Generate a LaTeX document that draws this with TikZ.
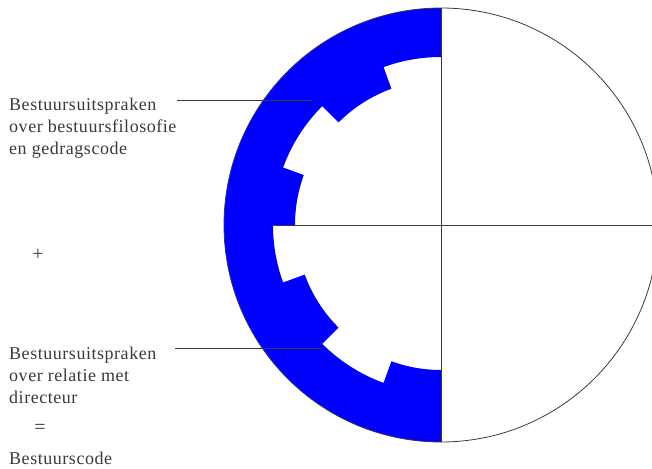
\documentclass[tikz,border=0pt]{standalone}
\usepackage{fontspec}
\setmainfont{Liberation Serif}[LetterSpace=3]
\usepackage{tikz}
\usetikzlibrary{positioning,calc}
\definecolor{Ink}{HTML}{3A3A3A}
\definecolor{Band}{HTML}{0000FF}

\begin{document}
\begin{tikzpicture}[
  x=1pt,
  y=-1pt,
  every node/.style={
    font=\fontsize{18}{22}\selectfont,
    text=Ink,
    inner sep=0pt
  },
  rule/.style={
    draw=Ink,
    line width=.8pt
  }
]

\useasboundingbox (0,0) rectangle (652,468);

\coordinate (c) at (441,225);
\coordinate (w) at (224,225);
\coordinate (e) at (658,225);
\coordinate (n) at (441,8);
\coordinate (s) at (441,442);

\begin{scope}
  \clip (0,0) rectangle (652,468);

  % diameters
  \draw[rule] (w) -- (e);
  \draw[rule] (n) -- (s);

  % blue band with tabs
  \begin{scope}[shift={(441,225)}, yscale=-1]
    \fill[Band]
      (90:217) arc[start angle=90, end angle=270, radius=217]
      -- (270:145) arc[start angle=270, end angle=250, radius=145]
      -- (250:168) arc[start angle=250, end angle=225, radius=168]
      -- (225:145) arc[start angle=225, end angle=200, radius=145]
      -- (200:168) arc[start angle=200, end angle=180, radius=168]
      -- (180:146) arc[start angle=180, end angle=160, radius=146]
      -- (160:168) arc[start angle=160, end angle=135, radius=168]
      -- (135:145) arc[start angle=135, end angle=110, radius=145]
      -- (110:168) arc[start angle=110, end angle=90, radius=168]
      -- cycle;
  \end{scope}

  \draw[rule] (c) circle[radius=217];
\end{scope}

% base of a multi-line node = baseline of its last line
\node[anchor=base west, align=left] (fil) at (9,154)
{Bestuursuitspraken\\over bestuursfilosofie\\en gedragscode};

\node[font=\fontsize{20}{22}\selectfont] (plus) at (38,255) {+};

\node[anchor=base west, align=left] (dir) at (9,403)
{Bestuursuitspraken\\over relatie met\\directeur};

\node[font=\fontsize{20}{22}\selectfont] (eq) at (40,429) {=};

\node[anchor=base west] (code) at (9,464) {Bestuurscode};

% leaders
\coordinate (l1) at (177,100);
\coordinate (t1) at (313,100);
\coordinate (l2) at (175,348);
\coordinate (t2) at (322,348);

\draw[rule] (l1) -- (t1);
\draw[rule] (l2) -- (t2);

\end{tikzpicture}
\end{document}
